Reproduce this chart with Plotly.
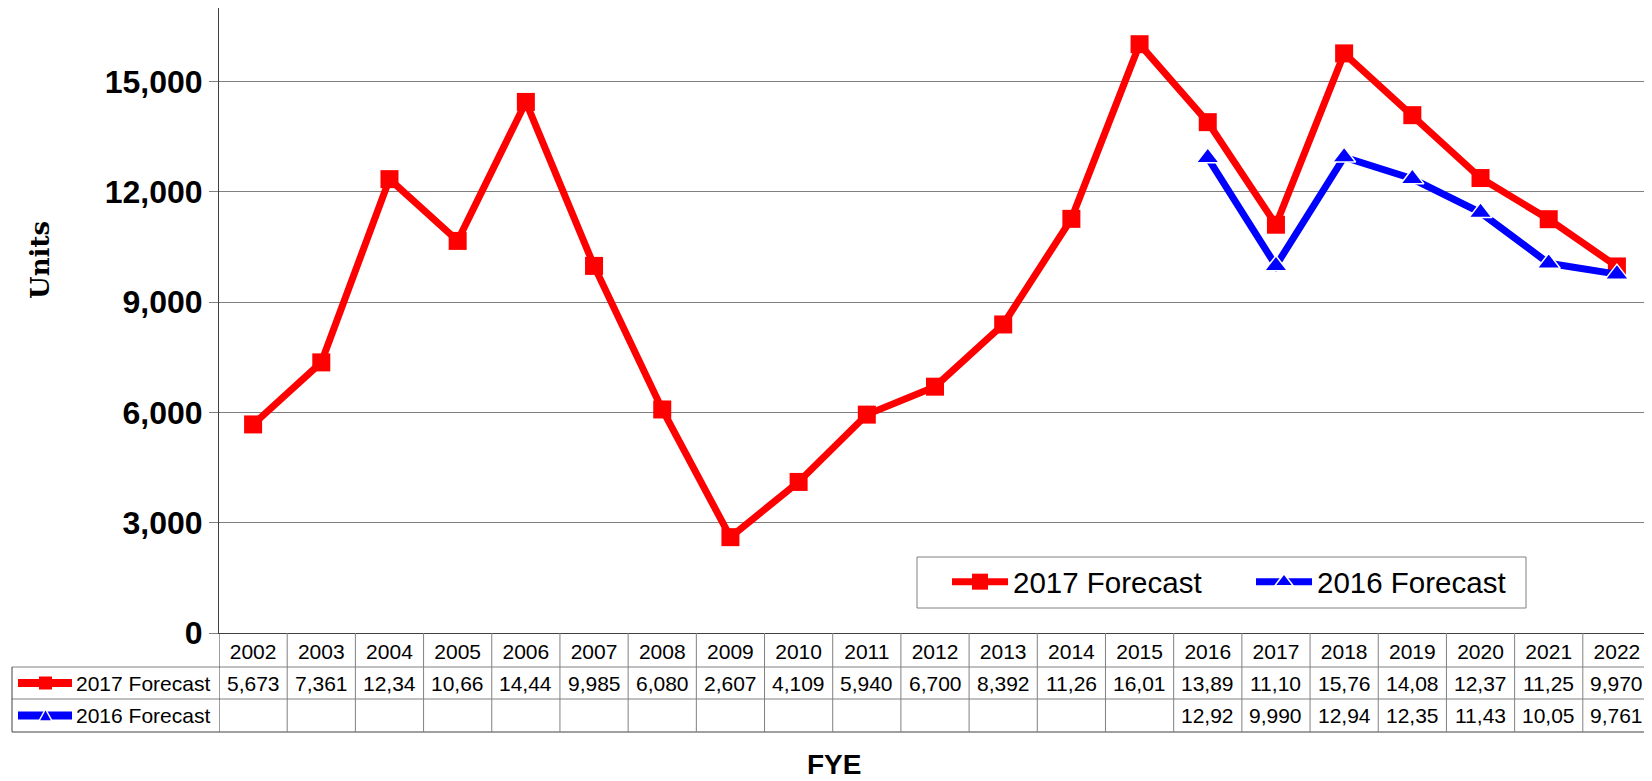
import plotly.graph_objects as go

# data
years = [str(y) for y in range(2002, 2023)]
forecast_2017 = [5673, 7361, 12345, 10665, 14445, 9985, 6080, 2607, 4109, 5940, 6700,
                 8392, 11265, 16015, 13895, 11105, 15765, 14085, 12375, 11255, 9970]
forecast_2016 = [None] * 14 + [12925, 9990, 12945, 12355, 11435, 10055, 9761]
y_ticks = [0, 3000, 6000, 9000, 12000, 15000]

# the page body adds an 8px margin, so the figure is drawn 8px smaller
OFF = 8
W, H = 1652 - OFF, 781 - OFF
L, R, T, B = 219 - OFF, 1, 0, 148
PW, PH = W - L - R, H - T - B


def px_x(px):
    # reference pixel -> paper x
    return (px - OFF - L) / PW


def px_y(py):
    # reference pixel -> paper y
    return (H - B - (py - OFF)) / PH


RED = "#FF0000"
BLUE = "#0000FF"
FONT = "Liberation Sans, Arial, sans-serif"
GRID = "#808080"
DARK = "#404040"

fig = go.Figure()
fig.add_trace(go.Scatter(
    x=years, y=forecast_2017, name="2017 Forecast", mode="lines+markers",
    line=dict(color=RED, width=7),
    marker=dict(symbol="square", size=18, color=RED),
))
fig.add_trace(go.Scatter(
    x=years, y=forecast_2016, name="2016 Forecast", mode="lines+markers",
    line=dict(color=BLUE, width=7),
    marker=dict(symbol="triangle-up", size=20, color=BLUE, line=dict(color="white", width=1.5)),
))

shapes = []
annotations = []

# legend frame
shapes.append(dict(type="rect", xref="paper", yref="paper",
                   x0=px_x(917), x1=px_x(1526), y0=px_y(557), y1=px_y(608),
                   line=dict(color=GRID, width=1), fillcolor="white", layer="below"))

# table: horizontal lines
for py in (667, 699, 732):
    shapes.append(dict(type="line", xref="paper", yref="paper",
                       x0=px_x(12), x1=1, y0=px_y(py), y1=px_y(py),
                       line=dict(color=DARK if py == 732 else GRID, width=1)))
# table: left border of label column
shapes.append(dict(type="line", xref="paper", yref="paper",
                   x0=px_x(12), x1=px_x(12), y0=px_y(667), y1=px_y(732),
                   line=dict(color=DARK, width=1)))
# table: column separators
for k in range(len(years) + 1):
    shapes.append(dict(type="line", xref="x", yref="paper",
                       x0=k - 0.5, x1=k - 0.5, y0=0, y1=px_y(732),
                       line=dict(color=DARK if k in (0, len(years)) else GRID, width=1)))

# table values (cells show only first 5 characters, as in the original)
rows = [(forecast_2017, 683), (forecast_2016, 715.5)]
for vals, py in rows:
    for i, v in enumerate(vals):
        if v is None:
            continue
        annotations.append(dict(x=i, xref="x", y=px_y(py), yref="paper",
                                text=f"{v:,}"[:5], showarrow=False,
                                xanchor="center", yanchor="middle",
                                font=dict(family=FONT, size=21, color="black")))

# row labels with key symbols
for label, py in (("2017 Forecast", 683), ("2016 Forecast", 715.5)):
    annotations.append(dict(x=px_x(212), xref="paper", y=px_y(py), yref="paper",
                            text=label, showarrow=False, xanchor="right", yanchor="middle",
                            font=dict(family=FONT, size=21, color="black")))

shapes.append(dict(type="line", xref="paper", yref="paper",
                   x0=px_x(18), x1=px_x(72), y0=px_y(683), y1=px_y(683),
                   line=dict(color=RED, width=8)))
shapes.append(dict(type="rect", xref="paper", yref="paper",
                   x0=px_x(39), x1=px_x(52), y0=px_y(676.5), y1=px_y(689.5),
                   line=dict(width=0), fillcolor=RED))
shapes.append(dict(type="line", xref="paper", yref="paper",
                   x0=px_x(18), x1=px_x(72), y0=px_y(715.5), y1=px_y(715.5),
                   line=dict(color=BLUE, width=8)))
tx = [px_x(39), px_x(45.5), px_x(52)]
ty = [px_y(721), px_y(709), px_y(721)]
shapes.append(dict(type="path", xref="paper", yref="paper",
                   path=f"M{tx[0]},{ty[0]} L{tx[1]},{ty[1]} L{tx[2]},{ty[2]} Z",
                   fillcolor=BLUE, line=dict(color="white", width=1.5)))

# axis titles
annotations.append(dict(x=px_x(40), xref="paper", y=px_y(260), yref="paper",
                        text="<b>Units</b>", textangle=-90, showarrow=False,
                        xanchor="center", yanchor="middle",
                        font=dict(family="DejaVu Serif, serif", size=26, color="black")))
annotations.append(dict(x=px_x(834), xref="paper", y=px_y(764), yref="paper",
                        text="<b>FYE</b>", showarrow=False,
                        xanchor="center", yanchor="middle",
                        font=dict(family=FONT, size=28, color="black")))

fig.update_layout(
    width=W, height=H,
    margin=dict(l=L, r=R, t=T, b=B),
    paper_bgcolor="white", plot_bgcolor="white",
    showlegend=True,
    legend=dict(orientation="h", x=px_x(947), y=px_y(582), xanchor="left", yanchor="middle",
                bgcolor="rgba(0,0,0,0)", borderwidth=0,
                font=dict(family=FONT, size=29.5, color="black"),
                itemwidth=56, entrywidth=233, tracegroupgap=0),
    xaxis=dict(type="category", range=[-0.5, len(years) - 0.5],
               showline=True, linecolor=DARK, linewidth=1, mirror=True,
               showgrid=False, ticks="", ticklabelstandoff=0,
               tickfont=dict(family=FONT, size=21, color="black")),
    yaxis=dict(range=[0, 17000], tickvals=y_ticks, tickformat=",",
               showline=True, linecolor=DARK, linewidth=1, mirror=True,
               ticks="outside", ticklen=9, tickcolor=GRID,
               showgrid=True, gridcolor=GRID, gridwidth=1, zeroline=False,
               tickfont=dict(family=FONT, size=32, color="black", weight="bold")),
    shapes=shapes,
    annotations=annotations,
)

fig.write_html("out.html")
